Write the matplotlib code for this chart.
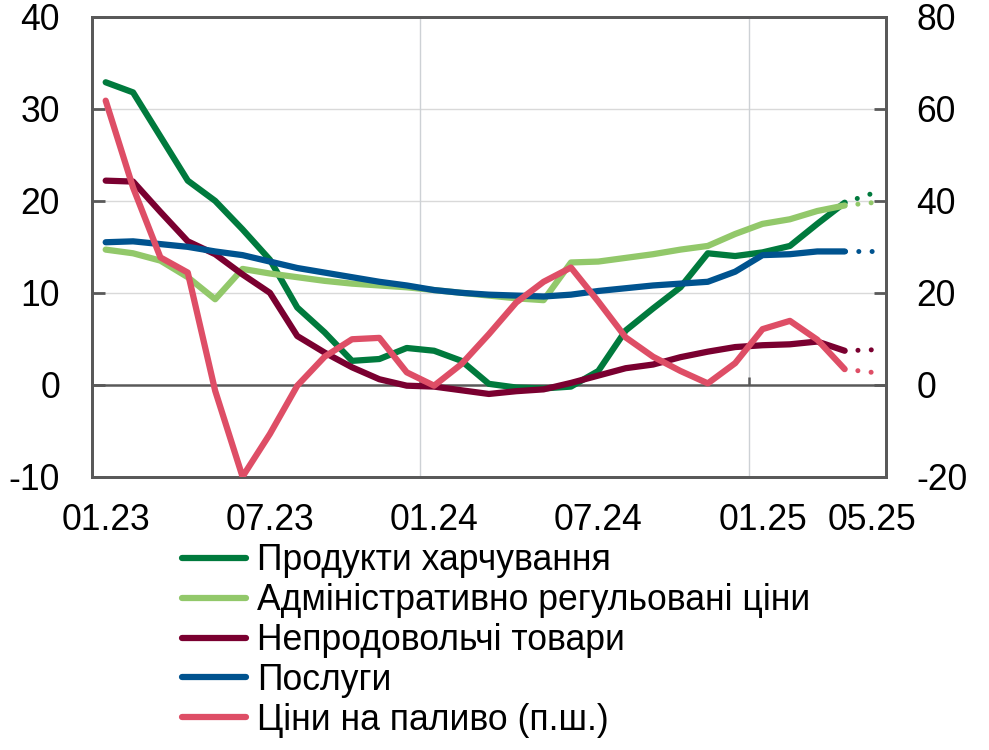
import matplotlib
matplotlib.use("Agg")
import matplotlib.pyplot as plt
import numpy as np

plt.rcParams['font.family'] = ['Liberation Sans', 'DejaVu Sans']
plt.rcParams['axes.unicode_minus'] = False

months = ["01.23", "02.23", "03.23", "04.23", "05.23", "06.23", "07.23", "08.23",
          "09.23", "10.23", "11.23", "12.23", "01.24", "02.24", "03.24", "04.24",
          "05.24", "06.24", "07.24", "08.24", "09.24", "10.24", "11.24", "12.24",
          "01.25", "02.25", "03.25", "04.25", "05.25"]
shown_labels = ["01.23", "07.23", "01.24", "07.24", "01.25", "05.25"]

food = [32.9, 31.8, 27.0, 22.2, 20.0, 16.9, 13.6, 8.4, 5.7, 2.6, 2.8, 4.0, 3.7, 2.6,
        0.1, -0.3, -0.4, -0.2, 1.5, 5.9, 8.3, 10.6, 14.3, 14.0, 14.4, 15.1, 17.5, 19.8, 20.8]
admin = [14.7, 14.3, 13.5, 11.7, 9.3, 12.6, 12.1, 11.7, 11.3, 11.0, 10.8, 10.6, 10.3, 10.0,
         9.7, 9.4, 9.2, 13.3, 13.4, 13.8, 14.2, 14.7, 15.1, 16.4, 17.5, 18.0, 18.9, 19.5, 19.8]
nonfood = [22.2, 22.1, 18.8, 15.6, 14.2, 12.0, 10.0, 5.3, 3.5, 1.9, 0.6, -0.1, -0.2, -0.6,
           -1.0, -0.7, -0.5, 0.2, 1.0, 1.8, 2.2, 3.0, 3.6, 4.1, 4.3, 4.4, 4.7, 3.7, 3.8]
services = [15.5, 15.6, 15.3, 15.0, 14.5, 14.1, 13.4, 12.7, 12.2, 11.7, 11.2, 10.8, 10.3, 10.0,
            9.8, 9.7, 9.6, 9.8, 10.2, 10.5, 10.8, 11.0, 11.2, 12.3, 14.1, 14.2, 14.5, 14.5, 14.5]
fuel = [61.8, 42.9, 27.7, 24.4, -1.3, -20.0, -10.7, -0.2, 6.1, 9.9, 10.2, 2.7, -0.2, 4.5,
        11.0, 17.9, 22.4, 25.5, 18.1, 10.3, 6.1, 3.0, 0.3, 4.7, 12.1, 13.9, 9.8, 3.4, 2.7]

labels = ["Продукти харчування", "Адміністративно регульовані ціни",
          "Непродовольчі товари", "Послуги", "Ціни на паливо (п.ш.)"]
colors = ["#007A3D", "#92C86A", "#7A0030", "#00538F", "#DE4E66"]

FS = 25.6
LW = 4.5
DOT_LW = 3.6
spine_col = "#595959"

fig = plt.figure(figsize=(9.89, 7.5), dpi=100)
ax = fig.add_axes([92/989, 1 - 476.7/750, (885.7 - 92)/989, (476.7 - 17)/750])
ax2 = ax.twinx()

x = np.arange(len(months))
n_solid = len(months) - 1  # last point drawn dotted

ax.set_xlim(-0.5, len(months) - 0.5)
ax.set_ylim(-10, 40)
ax2.set_ylim(-20, 80)

# grid
for yv in [10, 20, 30]:
    ax.axhline(yv, color="#D9D9D9", lw=1.0, zorder=0)
for gx in [11.5, 23.5]:
    ax.axvline(gx, color="#CDD1D5", lw=1.0, zorder=0)
ax.axhline(0, color=spine_col, lw=1.8, zorder=1)
ax.vlines([11.5, 23.5], 0, 0.8, color=spine_col, lw=1.8, zorder=1)

series = [food, admin, nonfood, services]
handles = []
for vals, c, lab in zip(series, colors[:4], labels[:4]):
    v = np.array(vals)
    h, = ax.plot(x[:n_solid], v[:n_solid], color=c, lw=LW, solid_capstyle="round",
                 solid_joinstyle="round", label=lab, zorder=3)
    ax.plot(x[n_solid - 1:], v[n_solid - 1:], color=c, lw=DOT_LW,
            linestyle=(0, (0.01, 2.65)), dash_capstyle="round", zorder=3)
    handles.append(h)

fv = np.array(fuel)
h, = ax2.plot(x[:n_solid], fv[:n_solid], color=colors[4], lw=LW, solid_capstyle="round",
              solid_joinstyle="round", label=labels[4], zorder=3)
ax2.plot(x[n_solid - 1:], fv[n_solid - 1:], color=colors[4], lw=DOT_LW,
         linestyle=(0, (0.01, 2.65)), dash_capstyle="round", zorder=3)
handles.append(h)

# ticks
tick_pos = [months.index(m) for m in shown_labels]
ax.set_xticks(tick_pos)
ax.set_xticklabels(shown_labels, fontsize=FS)
ax.tick_params(axis="x", length=0, pad=19)
ax.set_yticks([-10, 0, 10, 20, 30, 40])
ax.tick_params(axis="y", direction="in", length=9, width=2, color=spine_col,
               labelsize=FS, pad=23)
ax2.set_yticks([-20, 0, 20, 40, 60, 80])
ax2.tick_params(axis="y", direction="in", length=9, width=2, color=spine_col,
                labelsize=FS, pad=22)

for a in (ax, ax2):
    for s in a.spines.values():
        s.set_color(spine_col)
        s.set_linewidth(2.0)

fig.legend(handles=handles, labels=labels, loc="upper left",
           bbox_to_anchor=(182/989, 1 - 543/750), frameon=False, fontsize=FS,
           handlelength=1.8, handletextpad=0.3, labelspacing=0.14,
           borderpad=0, borderaxespad=0)

fig.savefig("out.png", dpi=100)
